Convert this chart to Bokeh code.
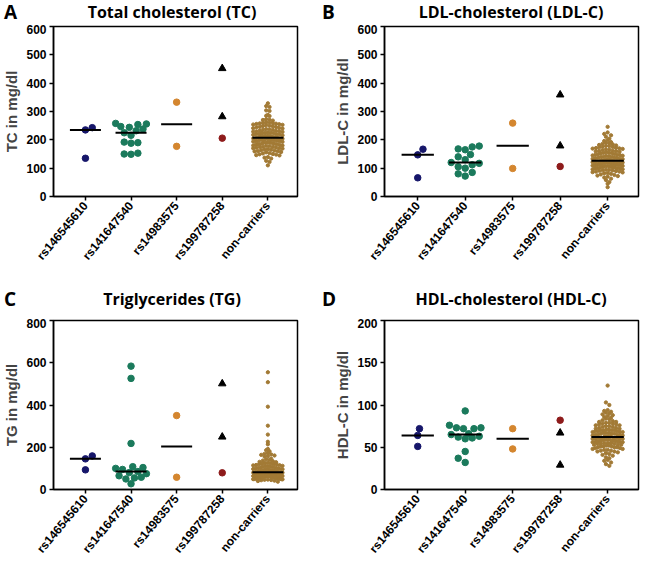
import math
import numpy as np
from bokeh.plotting import figure
from bokeh.layouts import column, row
from bokeh.models import Range1d, FixedTicker, Div
from bokeh.embed import file_html
from bokeh.resources import INLINE

# ---------------- data ----------------
categories = ["rs146545610", "rs141647540", "rs14983575", "rs199787258", "non-carriers"]

colors = ["#16166a", "#1b7a5c", "#d4862f", "#8e1b1b", "#a27a35"]

# Total cholesterol (TC), mg/dl
tc_rs146545610 = [243, 235, 135]
tc_rs141647540 = [258, 256, 254, 247, 244, 238, 232, 225, 216, 192, 190, 188, 153, 150, 149]
tc_rs14983575 = [333, 177]
tc_rs199787258_tri = [452, 282]
tc_rs199787258_dot = [206]
tc_noncarriers = [110, 122, 126, 134, 137, 139, 145, 146, 148, 149, 150,
                  152, 153, 156, 157, 159, 160, 160, 162, 164, 165, 166, 167, 169, 170, 170,
                  172, 173, 175, 175, 176, 178, 179, 180, 180, 181, 183, 184, 185, 186, 186,
                  188, 189, 190, 190, 191, 193, 194, 195, 195, 197, 198, 199, 200, 200, 201,
                  203, 204, 205, 205, 206, 206,
                  208, 209, 210, 210, 211, 212, 214, 215, 215, 216, 218, 219, 220, 220, 221,
                  223, 224, 225, 225, 226, 228, 229, 230, 230, 232, 233, 235, 236, 237, 238,
                  240, 241, 242, 244, 245, 246, 248, 249, 250, 252, 253, 254, 255, 256, 257,
                  258, 259, 260, 261, 262,
                  268, 270, 271, 273, 284, 285, 288, 302, 304, 316, 319, 329]

# LDL-cholesterol (LDL-C), mg/dl
ldl_rs146545610 = [167, 147, 66]
ldl_rs141647540 = [178, 175, 168, 165, 148, 140, 130, 120, 117, 112, 105, 100, 85, 80, 72]
ldl_rs14983575 = [259, 99]
ldl_rs199787258_tri = [359, 179]
ldl_rs199787258_dot = [106]
ldl_noncarriers = [33, 45, 51, 58, 63, 67, 70, 72, 74, 76, 78, 80,
                   82, 83, 85, 86, 88, 88, 90, 91, 92, 93, 94, 95, 96, 96, 98, 99, 100, 100,
                   101, 102, 103, 104, 105, 106, 107, 107, 108, 109, 110, 111, 112, 113, 114,
                   115, 115, 116, 117, 118, 119, 119, 120, 121, 122, 123, 123, 124, 125, 125,
                   104, 112,
                   127, 128, 129, 130, 131, 132, 133, 134, 135, 136, 137, 138, 139, 140, 141,
                   142, 143, 144, 145, 146, 147, 148, 149, 150, 152, 153, 154, 155, 156, 158,
                   159, 160, 161, 162, 164, 165, 166, 168, 169, 170, 171, 172, 174, 175, 176,
                   178, 179, 180, 182, 184, 186,
                   188, 190, 192, 196, 199, 204, 211, 216, 221, 226, 246]

# Triglycerides (TG), mg/dl
tg_rs146545610 = [159, 145, 93]
tg_rs141647540 = [584, 526, 218, 108, 104, 100, 95, 85, 80, 75, 65, 58, 55, 50, 27]
tg_rs14983575 = [350, 58]
tg_rs199787258_tri = [501, 249]
tg_rs199787258_dot = [79]
tg_noncarriers = [37, 40, 42, 44, 45, 46, 47, 48, 49, 50, 51, 52, 52, 53, 54, 55, 55, 56,
                  57, 58, 58, 59, 60, 60, 61, 62, 62, 63, 64, 64, 65, 66, 66, 67, 68, 68,
                  69, 70, 70, 71, 72, 72, 73, 74, 74, 75, 76, 76, 77, 78, 78, 79, 80, 80,
                  81, 81, 81, 76, 69, 63, 57, 49,
                  83, 84, 85, 86, 87, 88, 89, 90, 91, 92, 93, 94, 95, 96, 97, 98, 99, 100,
                  101, 102, 104, 105, 106, 108, 109, 110, 111, 112, 114, 115, 116, 118, 119,
                  120, 122, 124, 125, 127, 129, 131, 134,
                  137, 140, 143, 146, 156, 158, 161, 164, 166, 169, 172, 181, 186, 192, 214,
                  226, 260, 302, 392, 508, 555]

# HDL-cholesterol (HDL-C), mg/dl
hdl_rs146545610 = [72, 64, 51]
hdl_rs141647540 = [93, 76, 73, 73, 72, 72, 66, 65, 63, 62, 61, 60, 45, 37, 32]
hdl_rs14983575 = [72, 48]
hdl_rs199787258_tri = [67, 29]
hdl_rs199787258_dot = [82]
hdl_noncarriers = [28, 30, 32, 34, 35, 37, 38, 40, 41, 42, 43,
                   44, 45, 45, 46, 46, 47, 47, 48, 48, 49, 49, 50, 50, 51, 51, 51, 52, 52,
                   53, 53, 53, 54, 54, 55, 55, 55, 56, 56, 56, 57, 57, 57, 58, 58, 58, 59,
                   59, 59, 60, 60, 60, 60, 61, 61, 61, 61, 50, 54, 57, 59, 56,
                   63, 63, 63, 64, 64, 64, 65, 65, 65, 66, 66, 66, 67, 67, 67, 68, 68, 68,
                   69, 69, 69, 70, 70, 70, 71, 71, 72, 72, 73, 73, 74, 74, 75, 75, 76, 76,
                   77, 77, 78, 78, 79, 79, 80, 80, 81, 82, 83, 84, 85, 86, 87, 70,
                   88, 89, 90, 91, 92, 93, 94, 100, 103, 123]

XMIN, XMAX = -0.7, 4.65
AX_FONT = "Liberation Sans"
TITLE_FONT = "Open Sans"


def swarm_greedy(vals, ppu_y, upx, d, half):
    """Beeswarm offsets (x data units) for small groups."""
    vals = np.asarray(vals, dtype=float)
    order = np.argsort(vals, kind="stable")
    step = d / 4.0
    nmax = int(half / step)
    px_list, py_list = [], []
    offs = np.zeros(len(vals))
    for k, i in enumerate(order):
        y = vals[i] * ppu_y
        sgn = 1 if k % 2 == 0 else -1
        cands = [0.0]
        for m in range(1, nmax + 1):
            cands += [sgn * m * step, -sgn * m * step]
        chosen = 0.0
        if px_list:
            P = np.array(px_list)
            Q = np.array(py_list)
            best, bestd, chosen = 0.0, -1.0, None
            for c in cands:
                dm = np.min(np.hypot(P - c, Q - y))
                if dm >= d * 0.98:
                    chosen = c
                    break
                if dm > bestd:
                    bestd, best = dm, c
            if chosen is None:
                chosen = best
        px_list.append(chosen)
        py_list.append(y)
        offs[i] = chosen * upx
    return offs


def swarm_binned(vals, ppu_y, upx, d, half):
    """Row-binned beeswarm offsets (x data units) for large groups."""
    v = np.asarray(vals, dtype=float)
    bins = np.floor(v * ppu_y / d).astype(int)
    offs = np.zeros(len(v))
    for b in np.unique(bins):
        idx = np.where(bins == b)[0]
        idx = idx[np.argsort(-v[idx], kind="stable")]
        n = len(idx)
        sp = d if n == 1 else min(d, 2 * half / (n - 1))
        pos = (np.arange(n) - (n - 1) / 2) * sp
        pos = pos[np.argsort(np.abs(pos), kind="stable")]
        offs[idx] = pos * upx
    return offs


def make_header(letter, title, width, height, frame_left, frame_w, top):
    html = (
        f'<div style="position:relative;width:{width}px;height:{height}px;'
        f"font-family:'Open Sans';font-weight:bold;color:#000;margin:0;padding:0;\">"
        f'<span style="position:absolute;left:4px;top:{top}px;font-size:19px;'
        f'line-height:20px;">{letter}</span>'
        f'<span style="position:absolute;left:{frame_left}px;width:{frame_w}px;top:{top}px;'
        f'text-align:center;font-size:16px;line-height:20px;white-space:nowrap;">{title}</span>'
        f"</div>"
    )
    return Div(text=html, width=width, height=height, margin=(0, 0, 0, 0))


def make_panel(ylabel, ymax, ystep, g0, g1, g2, g3tri, g3dot, g4,
               width, height, bl, br, bt, bb):
    fw = width - bl - br
    fh = height - bt - bb
    p = figure(width=width, height=height, output_backend="svg", toolbar_location=None,
               x_range=Range1d(XMIN, XMAX), y_range=Range1d(0, ymax),
               min_border_left=bl, min_border_right=br,
               min_border_top=bt, min_border_bottom=bb)
    p.grid.visible = False
    p.outline_line_color = "black"
    p.outline_line_width = 1.5
    p.background_fill_color = "white"
    p.border_fill_color = "white"

    ppu = fh / ymax
    upx = (XMAX - XMIN) / fw

    for gi, vals in [(0, g0), (1, g1), (2, g2)]:
        offs = swarm_greedy(vals, ppu, upx, 7.0, 16)
        p.scatter(x=[gi + o for o in offs], y=vals, size=6.5, marker="circle",
                  fill_color=colors[gi], line_color=colors[gi])
    g3 = list(g3tri) + list(g3dot)
    offs3 = swarm_greedy(g3, ppu, upx, 7.0, 16)
    nt = len(g3tri)
    p.scatter(x=[3 + o for o in offs3[:nt]], y=g3tri, size=7.5, marker="triangle",
              fill_color="black", line_color="black")
    p.scatter(x=[3 + o for o in offs3[nt:]], y=g3dot, size=6.5, marker="circle",
              fill_color=colors[3], line_color=colors[3])
    offs4 = swarm_binned(g4, ppu, upx, 3.4, 15)
    p.scatter(x=[4 + o for o in offs4], y=g4, size=3.3, marker="circle",
              fill_color=colors[4], line_color=colors[4])

    idx = [0, 1, 2, 4]
    meds = [float(np.median(g)) for g in (g0, g1, g2, g4)]
    hw = 0.34
    p.segment(x0=[i - hw for i in idx], y0=meds, x1=[i + hw for i in idx], y1=meds,
              line_color="black", line_width=2)

    for ax in (p.xaxis[0], p.yaxis[0]):
        ax.axis_line_color = "black"
        ax.axis_line_width = 1.5
        ax.major_tick_line_color = "black"
        ax.major_tick_line_width = 1.5
        ax.major_tick_out = 4
        ax.major_tick_in = 0
        ax.minor_tick_line_color = None
        ax.major_label_text_font = AX_FONT
        ax.major_label_text_font_style = "bold"
        ax.major_label_text_color = "black"
    p.yaxis.ticker = FixedTicker(ticks=list(range(0, ymax + 1, ystep)))
    p.yaxis.major_label_text_font_size = "12px"
    p.yaxis.major_label_standoff = 3
    p.yaxis.axis_label = ylabel
    p.yaxis.axis_label_text_font = AX_FONT
    p.yaxis.axis_label_text_font_style = "bold"
    p.yaxis.axis_label_text_font_size = "15px"
    p.yaxis.axis_label_standoff = 3

    p.xaxis.ticker = FixedTicker(ticks=[0, 1, 2, 3, 4])
    p.xaxis.major_label_overrides = {i: c for i, c in enumerate(categories)}
    p.xaxis.major_label_orientation = 0.873
    p.xaxis.major_label_text_font_size = "12px"
    p.xaxis.major_label_standoff = 3
    return p


W_L, W_R = 318, 324
BL_L, BR_L = 47, 21
BL_R, BR_R = 66, 4

hA = make_header("A", "Total cholesterol (TC)", W_L, 24, BL_L, W_L - BL_L - BR_L, 2)
hB = make_header("B", "LDL-cholesterol (LDL-C)", W_R, 24, BL_R, W_R - BL_R - BR_R, 2)
hC = make_header("C", "Triglycerides (TG)", W_L, 46, BL_L, W_L - BL_L - BR_L, 17)
hD = make_header("D", "HDL-cholesterol (HDL-C)", W_R, 46, BL_R, W_R - BL_R - BR_R, 17)

pA = make_panel("TC in mg/dl", 600, 100,
                tc_rs146545610, tc_rs141647540, tc_rs14983575,
                tc_rs199787258_tri, tc_rs199787258_dot, tc_noncarriers,
                W_L, 248, BL_L, BR_L, 2, 76)
pB = make_panel("LDL-C in mg/dl", 600, 100,
                ldl_rs146545610, ldl_rs141647540, ldl_rs14983575,
                ldl_rs199787258_tri, ldl_rs199787258_dot, ldl_noncarriers,
                W_R, 248, BL_R, BR_R, 2, 76)
pC = make_panel("TG in mg/dl", 800, 200,
                tg_rs146545610, tg_rs141647540, tg_rs14983575,
                tg_rs199787258_tri, tg_rs199787258_dot, tg_noncarriers,
                W_L, 245, BL_L, BR_L, 2, 73)
pD = make_panel("HDL-C in mg/dl", 200, 50,
                hdl_rs146545610, hdl_rs141647540, hdl_rs14983575,
                hdl_rs199787258_tri, hdl_rs199787258_dot, hdl_noncarriers,
                W_R, 245, BL_R, BR_R, 2, 73)

layout = column(row(column(hA, pA), column(hB, pB)),
                row(column(hC, pC), column(hD, pD)))

open("out.html", "w").write(file_html(layout, INLINE))
